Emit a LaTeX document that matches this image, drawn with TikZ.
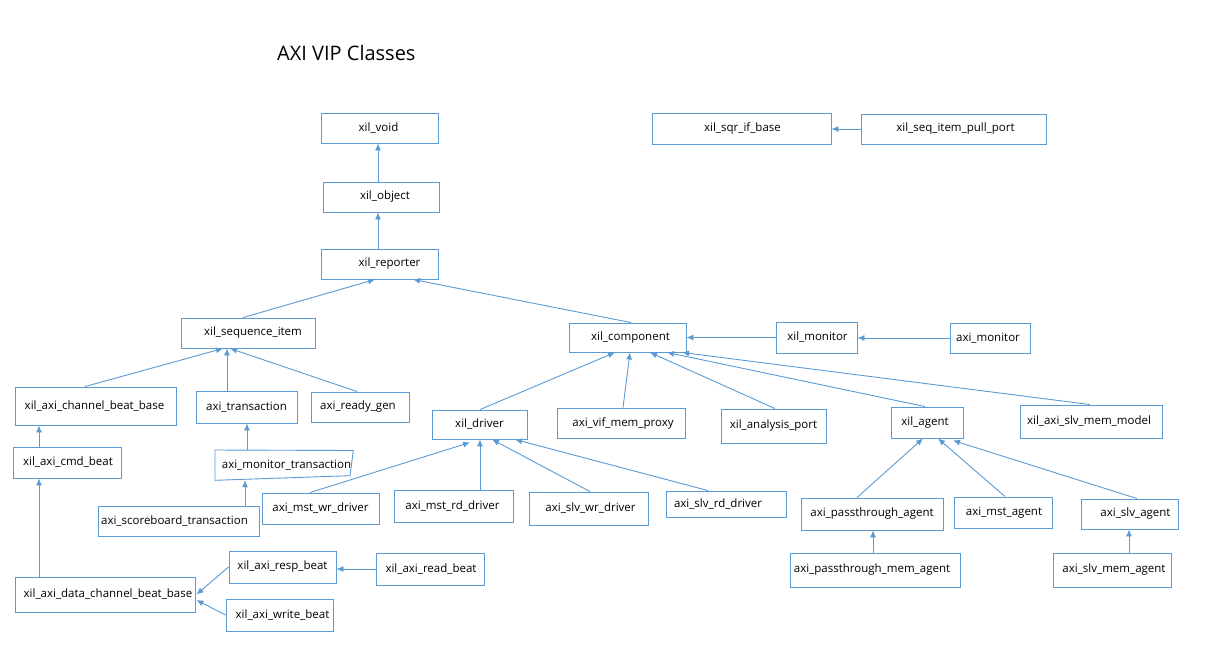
\documentclass[tikz,border=0pt]{standalone}
\usepackage{fontspec}
\setmainfont{Open Sans}
\usetikzlibrary{arrows.meta}
\definecolor{ln}{HTML}{5B9BD5}
\tikzset{
  box/.style={draw=ln, line width=0.9pt, inner sep=0pt, text=black, font=\fontsize{11.5}{13}\selectfont},
  nobox/.style={draw=none, inner sep=0pt, text=black, font=\fontsize{11.5}{13}\selectfont},
  arr/.style={draw=ln, line width=0.9pt, -{Latex[length=7pt,width=6pt]}}
}
\newcommand\cls[7]{\node[box, minimum width=#4pt, minimum height=#5pt] (#1) at (#2,#3) {\hspace*{#6pt}#7};}
\begin{document}
\begin{tikzpicture}[x=1pt,y=-1pt]
\useasboundingbox[fill=white] (0,0) rectangle (1217,651);
\node[anchor=base west, inner sep=0pt, font=\fontsize{20}{24}\selectfont] (title) at (277,60) {AXI VIP Classes};
% boxes
\cls{void}{379.5}{128}{117}{30}{-2}{xil\_void}
\cls{obj}{381}{197}{116}{30}{8}{xil\_object}
\cls{rep}{379.5}{264}{117}{30}{20}{xil\_reporter}
\cls{seq}{248}{333}{134}{30}{10}{xil\_sequence\_item}
\cls{sqr}{741.5}{128.5}{179}{31}{2}{xil\_sqr\_if\_base}
\cls{pull}{953.5}{129}{185}{30}{4}{xil\_seq\_item\_pull\_port}
\cls{chbase}{95.5}{406}{161}{38}{-2}{xil\_axi\_channel\_beat\_base}
\cls{trans}{246.5}{407}{101}{32}{0}{axi\_transaction}
\cls{ready}{360}{407}{98}{30}{-4}{axi\_ready\_gen}
\cls{cmd}{67}{462.5}{108}{31}{2}{xil\_axi\_cmd\_beat}
\node[nobox, minimum width=137pt, minimum height=30pt] (montr) at (283.5,465) {\hspace*{6pt}axi\_monitor\_transaction};
\draw[ln, line width=0.9pt] (215,450) -- (353.3,450.5) -- (350,475.7) -- (215,480.3) -- cycle;
\cls{score}{178.5}{521}{161}{30}{-8}{axi\_scoreboard\_transaction}
\cls{mstwr}{320.5}{508.5}{117}{31}{0}{axi\_mst\_wr\_driver}
\cls{resp}{282.5}{567}{107}{32}{0}{xil\_axi\_resp\_beat}
\cls{read}{430}{569}{108}{32}{2}{xil\_axi\_read\_beat}
\cls{data}{105}{594.5}{180}{35}{6}{xil\_axi\_data\_channel\_beat\_base}
\cls{write}{279.5}{615}{107}{32}{6}{xil\_axi\_write\_beat}
\cls{comp}{627.5}{337.5}{117}{29}{6}{xil\_component}
\cls{xmon}{816.5}{337.5}{81}{31}{2}{xil\_monitor}
\cls{amon}{990}{338}{80}{30}{-4}{axi\_monitor}
\cls{drv}{479.5}{424.5}{95}{29}{0}{xil\_driver}
\cls{vif}{621}{423}{128}{30}{4}{axi\_vif\_mem\_proxy}
\cls{ap}{773.5}{426}{105}{34}{0}{xil\_analysis\_port}
\cls{mstrd}{453.5}{506}{119}{32}{-2}{axi\_mst\_rd\_driver}
\cls{slvwr}{588.5}{508.5}{119}{33}{4}{axi\_slv\_wr\_driver}
\cls{slvrd}{726}{504}{120}{26}{-16}{axi\_slv\_rd\_driver}
\cls{agent}{927}{422.5}{72}{31}{-4}{xil\_agent}
\cls{mm}{1091}{421.5}{142}{33}{-4}{xil\_axi\_slv\_mem\_model}
\cls{pass}{872}{514}{142}{32}{0}{axi\_passthrough\_agent}
\cls{mstag}{1003}{512.5}{98}{31}{2}{axi\_mst\_agent}
\cls{slvag}{1129.5}{514}{97}{30}{12}{axi\_slv\_agent}
\cls{passmem}{875}{570}{170}{34}{-6}{axi\_passthrough\_mem\_agent}
\cls{slvmem}{1112}{570}{118}{34}{4}{axi\_slv\_mem\_agent}
% connectors
\draw[arr] ([xshift=-3pt]obj.north) -- ([xshift=-1.5pt]void.south);
\draw[arr] ([xshift=-1.5pt]rep.north) -- ([xshift=-3pt]obj.south);
\draw[arr] ([xshift=-5pt]seq.north) -- ([xshift=-4.5pt]rep.south);
\draw[arr] ([xshift=3.5pt]comp.north) -- ([xshift=33.5pt]rep.south);
\draw[arr] (pull.west) -- (pull.west -| sqr.east);
\draw[arr] ([xshift=-10.5pt]chbase.north) -- ([xshift=-25pt]seq.south);
\draw[arr] ([xshift=-19.5pt]trans.north) -- ([xshift=-21pt]seq.south);
\draw[arr] ([xshift=-3pt]ready.north) -- ([xshift=-18pt]seq.south);
\draw[arr] ([xshift=-28pt]cmd.north) -- ([xshift=-56.5pt]chbase.south);
\draw[arr] ([xshift=-36.5pt]montr.north) -- ([xshift=0.5pt]trans.south);
\draw[arr] ([xshift=66.5pt]score.north) -- ([xshift=-38.5pt]montr.south);
\draw[arr] ([xshift=-66pt]data.north) -- ([xshift=-28pt]cmd.south);
\draw[arr] (resp.west) -- ([xshift=1pt]data.east);
\draw[arr] (write.west) -- ([xshift=1pt,yshift=-5.5pt]data.east);
\draw[arr] (read.west) -- (read.west -| resp.east);
\draw[arr] (xmon.west) -- (xmon.west -| comp.east);
\draw[arr] (amon.west) -- (amon.west -| xmon.east);
\draw[arr] ([xshift=0.5pt]drv.north) -- ([xshift=-12.5pt]comp.south);
\draw[arr] ([xshift=2pt]vif.north) -- ([xshift=2.5pt]comp.south);
\draw[arr] ([xshift=1.5pt]ap.north) -- ([xshift=22.5pt]comp.south);
\draw[arr] ([xshift=-2pt]agent.north) -- ([xshift=39.5pt]comp.south);
\draw[arr] ([xshift=-1pt]mm.north) -- ([xshift=54.5pt]comp.south);
\draw[arr] ([xshift=-10.5pt]mstwr.north) -- ([xshift=-9.5pt,yshift=-3pt]drv.south);
\draw[arr] ([xshift=26.5pt]mstrd.north) -- ([xshift=0.5pt]drv.south);
\draw[arr] ([xshift=1.5pt]slvwr.north) -- ([xshift=12.5pt]drv.south);
\draw[arr] ([xshift=-18pt]slvrd.north) -- ([xshift=35.5pt]drv.south);
\draw[arr] ([xshift=-15pt]pass.north) -- ([xshift=-4pt]agent.south);
\draw[arr] ([xshift=2pt]mstag.north) -- ([xshift=11pt]agent.south);
\draw[arr] ([xshift=7.5pt]slvag.north) -- ([xshift=26pt,yshift=-2pt]agent.south);
\draw[arr] ([xshift=-2pt]passmem.north) -- ([xshift=1pt]pass.south);
\draw[arr] ([xshift=17pt]slvmem.north) -- ([xshift=-0.5pt]slvag.south);
\end{tikzpicture}
\end{document}
